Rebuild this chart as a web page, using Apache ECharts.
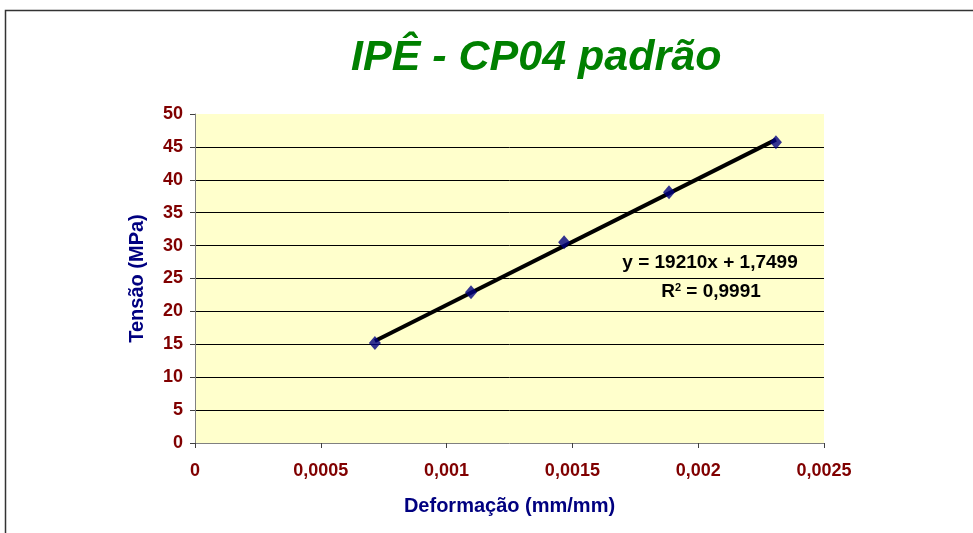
<!DOCTYPE html>
<html>
<head>
<meta charset="utf-8">
<script src="https://cdn.jsdelivr.net/npm/echarts@6/dist/echarts.min.js"></script>
<style>
  html, body { margin: 0; padding: 0; background: #fff; }
  #chart { width: 973px; height: 533px; }
</style>
</head>
<body>
<div id="chart"></div>
<script>
// strain (mm/mm) and stress (MPa)
const strain = [0.000715, 0.001097, 0.001467, 0.001884, 0.002309];
const stress = [15.2, 22.9, 30.5, 38.1, 45.7];

// linear trendline end points
const trendX = [0.000715, 0.002309];
const trendY = [15.5, 46.1];

const xTicks = ['0', '0,0005', '0,001', '0,0015', '0,002', '0,0025'];

const chart = echarts.init(document.getElementById('chart'), null, { renderer: 'canvas' });

const font = '"Liberation Sans", Arial, sans-serif';
const red = '#800000';
const navy = '#000080';

// hide the grid line at the top (50) and at 0 (axis line covers it)
const splitColors = ['rgba(0,0,0,0)', '#000', '#000', '#000', '#000', '#000', '#000', '#000', '#000', '#000', 'rgba(0,0,0,0)'];

const option = {
    backgroundColor: '#fff',
    animation: false,
    title: {
        text: 'IPÊ - CP04 padrão',
        left: 346,
        top: 32,
        textStyle: {
            fontFamily: font,
            fontSize: 43,
            fontWeight: 'bold',
            fontStyle: 'italic',
            color: '#008000',
        },
    },
    grid: {
        left: 195,
        right: 149,
        top: 114,
        bottom: 90,
        show: true,
        backgroundColor: '#ffffcc',
        borderWidth: 0,
    },
    xAxis: {
        type: 'value',
        min: 0,
        max: 0.0025,
        interval: 0.0005,
        name: 'Deformação (mm/mm)',
        nameLocation: 'middle',
        nameGap: 53,
        nameTextStyle: { fontFamily: font, fontSize: 20, fontWeight: 'bold', color: navy },
        axisLine: { show: true, lineStyle: { color: '#808080', width: 1 } },
        axisTick: { show: true, length: 5, lineStyle: { color: '#404040' } },
        axisLabel: {
            margin: 19,
            fontFamily: font,
            fontSize: 18,
            fontWeight: 'bold',
            color: red,
            formatter: (v) => xTicks[Math.round(v / 0.0005)],
        },
        splitLine: { show: false },
    },
    yAxis: {
        type: 'value',
        min: 0,
        max: 50,
        interval: 5,
        name: 'Tensão (MPa)',
        nameLocation: 'middle',
        nameGap: 48,
        nameTextStyle: { fontFamily: font, fontSize: 20, fontWeight: 'bold', color: navy },
        axisLine: { show: true, lineStyle: { color: '#808080', width: 1 } },
        axisTick: { show: true, length: 5, lineStyle: { color: '#404040' } },
        axisLabel: {
            margin: 12,
            fontFamily: font,
            fontSize: 18,
            fontWeight: 'bold',
            color: red,
        },
        splitLine: { show: true, lineStyle: { color: splitColors, width: 1 } },
    },
    series: [
        {
            type: 'line',
            data: trendX.map((x, i) => [x, trendY[i]]),
            showSymbol: false,
            symbol: 'none',
            lineStyle: { color: '#000', width: 4 },
            z: 2,
        },
        {
            type: 'scatter',
            data: strain.map((x, i) => [x, stress[i]]),
            symbol: 'diamond',
            symbolSize: [12, 14],
            itemStyle: { color: navy },
            z: 3,
        },
    ],
    graphic: [
        {
            type: 'rect',
            shape: { x: 5.5, y: 10.5, width: 1200, height: 1200 },
            style: { fill: 'none', stroke: '#333', lineWidth: 1.5 },
            silent: true,
        },
        {
            type: 'text',
            x: 710,
            y: 263,
            style: {
                text: 'y = 19210x + 1,7499',
                fontFamily: font,
                fontSize: 19,
                fontWeight: 'bold',
                fill: '#000',
                align: 'center',
                verticalAlign: 'middle',
            },
            z: 10,
        },
        {
            type: 'text',
            x: 711,
            y: 292,
            style: {
                text: '{a|R}{s|2}{a| = 0,9991}',
                align: 'center',
                verticalAlign: 'middle',
                rich: {
                    a: { fontFamily: font, fontSize: 19, fontWeight: 'bold', fill: '#000' },
                    s: { fontFamily: font, fontSize: 11, fontWeight: 'bold', fill: '#000', verticalAlign: 'top', padding: [0, 0, 9, 0] },
                },
            },
            z: 10,
        },
    ],
};

chart.setOption(option);
</script>
</body>
</html>
